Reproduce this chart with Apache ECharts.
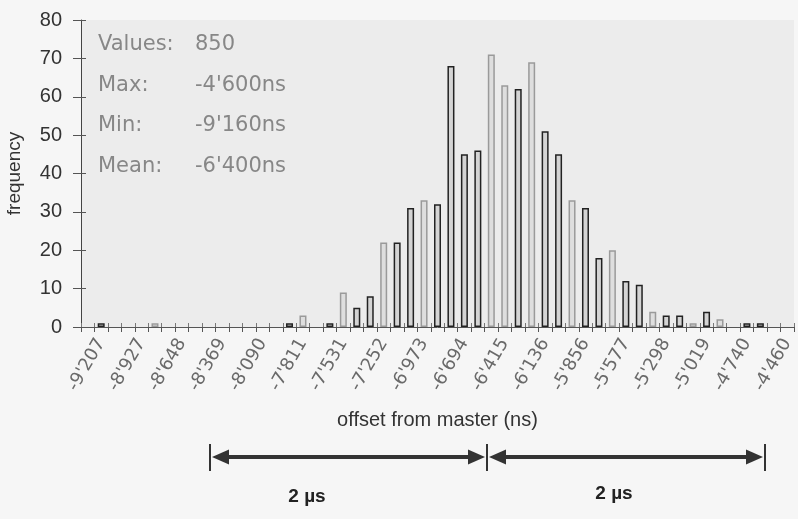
<!DOCTYPE html>
<html>
<head>
<meta charset="utf-8">
<script src="https://cdn.jsdelivr.net/npm/echarts@6/dist/echarts.min.js"></script>
<style>
html,body{margin:0;padding:0;background:#f6f6f6;}
#c{width:798px;height:519px;}
</style>
</head>
<body>
<div id="c"></div>
<script>
// histogram bins (53 bins, ~93 ns each); tick label every 3rd bin starting at bin 1
const binIds = ['b0','b1','b2','b3','b4','b5','b6','b7','b8','b9','b10','b11','b12','b13','b14','b15','b16','b17','b18','b19','b20','b21','b22','b23','b24','b25','b26','b27','b28','b29','b30','b31','b32','b33','b34','b35','b36','b37','b38','b39','b40','b41','b42','b43','b44','b45','b46','b47','b48','b49','b50','b51','b52'];
const tickLabels = ["-9'207","-8'927","-8'648","-8'369","-8'090","-7'811","-7'531","-7'252","-6'973","-6'694","-6'415","-6'136","-5'856","-5'577","-5'298","-5'019","-4'740","-4'460"];
// counts drawn with dark outline
const darkCounts = [null,1,null,null,null,null,null,null,null,null,null,null,null,null,null,1,null,null,1,null,5,8,null,22,31,null,32,68,45,46,null,null,62,null,51,45,null,31,18,null,12,11,null,3,3,null,4,null,null,1,1,null,null];
// counts drawn with light outline
const lightCounts = [null,null,null,null,null,1,null,null,null,null,null,null,null,null,null,null,3,null,null,9,null,null,22,null,null,33,null,null,null,null,71,63,null,69,null,null,33,null,null,20,null,null,4,null,null,1,null,2,null,null,null,null,null];
const statNames = ['Values:','Max:','Min:','Mean:'];
const statValues = ['850',"-4'600ns","-9'160ns","-6'400ns"];
const yMin = 0, yMax = 80, yStep = 10;
const xTitle = 'offset from master (ns)';
const yTitle = 'frequency';
const spanText = '2 \u00b5s';

const FONT = "'Liberation Sans', Arial, sans-serif";
const WIDE = "'DejaVu Sans', 'Liberation Sans', sans-serif";
const chart = echarts.init(document.getElementById('c'), null, {renderer:'canvas'});

const graphics = [];
statNames.forEach((n, k) => {
  const y = 45 + k * 40.5;
  graphics.push({type:'text', x:98, y:y, style:{text:n, font:'21px ' + WIDE, fill:'#878787', verticalAlign:'middle'}});
  graphics.push({type:'text', x:195, y:y, style:{text:statValues[k], font:'21px ' + WIDE, fill:'#878787', verticalAlign:'middle'}});
});
// dimension arrows
const ay = 457, xs = [210, 487, 765];
const stroke = '#333';
xs.forEach(x => graphics.push({type:'line', shape:{x1:x, y1:444, x2:x, y2:471}, style:{stroke:stroke, lineWidth:2}}));
for (let k = 0; k < 2; k++) {
  const a = xs[k] + 2, b = xs[k+1] - 2;
  graphics.push({type:'line', shape:{x1:a+10, y1:ay, x2:b-10, y2:ay}, style:{stroke:stroke, lineWidth:4}});
  graphics.push({type:'polygon', shape:{points:[[a,ay],[a+17,ay-7.5],[a+17,ay+7.5]]}, style:{fill:stroke}});
  graphics.push({type:'polygon', shape:{points:[[b,ay],[b-17,ay-7.5],[b-17,ay+7.5]]}, style:{fill:stroke}});
}
graphics.push({type:'text', x:307, y:497, style:{text:spanText, font:'bold 19px ' + FONT, fill:'#222', align:'center', verticalAlign:'middle'}});
graphics.push({type:'text', x:614, y:494, style:{text:spanText, font:'bold 19px ' + FONT, fill:'#222', align:'center', verticalAlign:'middle'}});

const barCommon = {
  type:'bar', barWidth:7, barGap:'-100%', xAxisIndex:0, yAxisIndex:0
};

chart.setOption({
  animation:false,
  backgroundColor:'#f6f6f6',
  grid:{left:81, right:4, top:20, bottom:192, containLabel:false, outerBoundsMode:'none',
        show:true, backgroundColor:'#ececec', borderWidth:0},
  xAxis:[{
    type:'category', data:binIds, boundaryGap:true,
    axisLine:{lineStyle:{color:'#555', width:1}},
    axisTick:{show:true, interval:0, length:5, lineStyle:{color:'#555'}},
    axisLabel:{
      interval:(i) => (i - 1) % 3 === 0 && i >= 1,
      formatter:(v, i) => tickLabels[(i - 1) / 3] || '',
      rotate:60, margin:13, color:'#6a6a6a', fontSize:18, fontFamily:WIDE
    },
    name:xTitle, nameLocation:'middle', nameGap:83,
    nameTextStyle:{color:'#333', fontSize:20, fontFamily:FONT}
  },{
    type:'category', data:binIds, boundaryGap:true, position:'bottom',
    axisLine:{show:false},
    axisTick:{show:true, inside:true, interval:0, length:4, lineStyle:{color:'#777'}},
    axisLabel:{show:false}
  }],
  yAxis:[{
    type:'value', min:yMin, max:yMax, interval:yStep,
    axisLine:{show:true, lineStyle:{color:'#444', width:1}},
    axisTick:{show:true, length:8, lineStyle:{color:'#555'}},
    splitLine:{show:false},
    axisLabel:{color:'#333', fontSize:20, fontFamily:FONT, margin:19},
    name:yTitle, nameLocation:'middle', nameGap:57,
    nameTextStyle:{color:'#333', fontSize:19, fontFamily:FONT}
  },{
    type:'value', min:yMin, max:yMax, interval:yStep, position:'left',
    axisLine:{show:false},
    axisTick:{show:true, inside:true, length:5, lineStyle:{color:'#555'}},
    splitLine:{show:false}, axisLabel:{show:false}
  }],
  series:[
    Object.assign({}, barCommon, {name:'dark', data:darkCounts,
      itemStyle:{color:'#d4d4d4', borderColor:'#222', borderWidth:1.5}}),
    Object.assign({}, barCommon, {name:'light', data:lightCounts,
      itemStyle:{color:'#dedede', borderColor:'#9a9a9a', borderWidth:1.5}})
  ],
  graphic:graphics
});
</script>
</body>
</html>
